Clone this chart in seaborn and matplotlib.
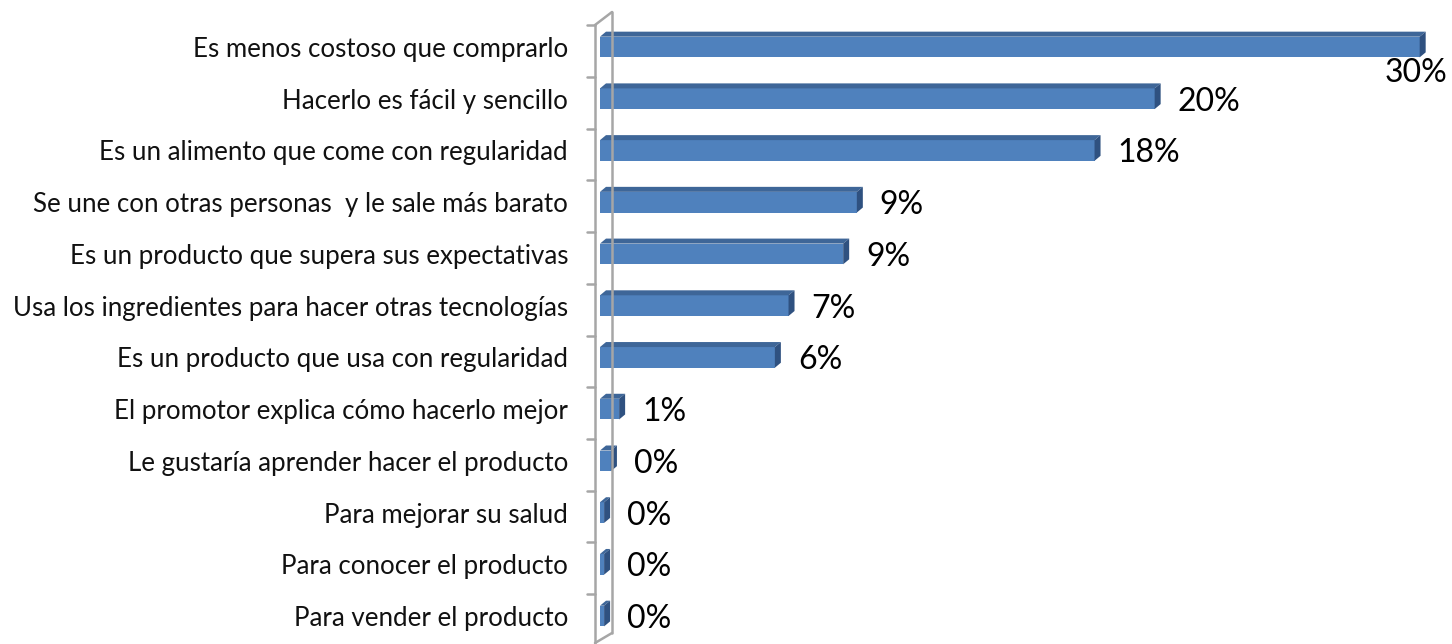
import numpy as np
import pandas as pd
import matplotlib
matplotlib.use('Agg')
import matplotlib.pyplot as plt
from matplotlib.patches import Polygon
from matplotlib.lines import Line2D
from matplotlib.transforms import IdentityTransform, Affine2D
import seaborn as sns

sns.set_theme(style='white')
plt.rcParams['font.family'] = ['Lato', 'DejaVu Sans']

motivos = [
    'Es menos costoso que comprarlo',
    'Hacerlo es fácil y sencillo',
    'Es un alimento que come con regularidad',
    'Se une con otras personas  y le sale más barato',
    'Es un producto que supera sus expectativas',
    'Usa los ingredientes para hacer otras tecnologías',
    'Es un producto que usa con regularidad',
    'El promotor explica cómo hacerlo mejor',
    'Le gustaría aprender hacer el producto',
    'Para mejorar su salud',
    'Para conocer el producto',
    'Para vender el producto',
]
porcentaje = [30.0, 20.3, 18.1, 9.4, 8.9, 6.9, 6.4, 0.7, 0.4, 0.15, 0.15, 0.15]
etiquetas = ['30%', '20%', '18%', '9%', '9%', '7%', '6%', '1%', '0%', '0%', '0%', '0%']

df = pd.DataFrame({'motivo': motivos, 'pct': porcentaje})

W, H = 1452, 644
fig = plt.figure(figsize=(W / 100, H / 100), dpi=100)
ax = fig.add_axes([600 / W, 2.1 / H, 847 / W, 631.1 / H])

sns.barplot(data=df, x='pct', y='motivo', orient='h', color='#4F81BD',
            saturation=1, width=0.4, ax=ax, edgecolor='none')
ax.set_xlim(0, 31)
ax.set_ylim(11.5, -0.7)
ax.set_xlabel('')
ax.set_ylabel('')
ax.set_xticks([])
for s in ax.spines.values():
    s.set_visible(False)
ax.tick_params(axis='y', length=0, pad=23, labelsize=18.6, labelcolor='#111111')
for t in ax.get_yticklabels():
    t.set_va('center_baseline')
ax.patch.set_alpha(0)

# efecto 3D: cara superior y lateral
dx, dy = 6, 5
for p, lab in zip(ax.patches, etiquetas):
    x0, y0 = p.get_x(), p.get_y()
    w, h = p.get_width(), p.get_height()
    (px0, pyb), (px1, pyt) = ax.transData.transform([(x0, y0 + h), (x0 + w, y0)])
    top = Polygon([(px0, pyt), (px1, pyt), (px1 + dx, pyt + dy), (px0 + dx, pyt + dy)],
                  closed=True, facecolor='#3E6698', edgecolor='none',
                  transform=IdentityTransform())
    side = Polygon([(px1, pyb), (px1, pyt), (px1 + dx, pyt + dy), (px1 + dx, pyb + dy)],
                   closed=True, facecolor='#2F5180', edgecolor='none',
                   transform=IdentityTransform())
    ax.add_artist(top)
    ax.add_artist(side)
    cy = (pyb + pyt) / 2
    if px1 + dx + 80 > W:
        ax.text(px1 + dx + 22, cy - 26, lab, transform=IdentityTransform(),
                ha='right', va='center', fontsize=23, color='black')
    else:
        ax.text(px1 + dx + 17, cy - 3, lab, transform=IdentityTransform(),
                ha='left', va='center', fontsize=23, color='black')

# pared del eje (estilo 3D)
img = Affine2D().scale(1, -1).translate(0, H)
gris = '#A6A6A6'
xf, xb = 595, 612
wall = [([xf, xf], [25, 643]), ([xb, xb], [12, 633]),
        ([xf, xb], [25, 12]), ([xf, xb], [643, 633])]
for xs, ys in wall:
    fig.add_artist(Line2D(xs, ys, color=gris, lw=1.8, transform=img))
for i in range(len(motivos) + 1):
    _, ty = ax.transData.transform((0, i - 0.5))
    ty = H - ty + 4
    if ty < 644:
        fig.add_artist(Line2D([587, xf], [ty, ty], color=gris, lw=1.8, transform=img))

fig.savefig('out.png', dpi=100)
